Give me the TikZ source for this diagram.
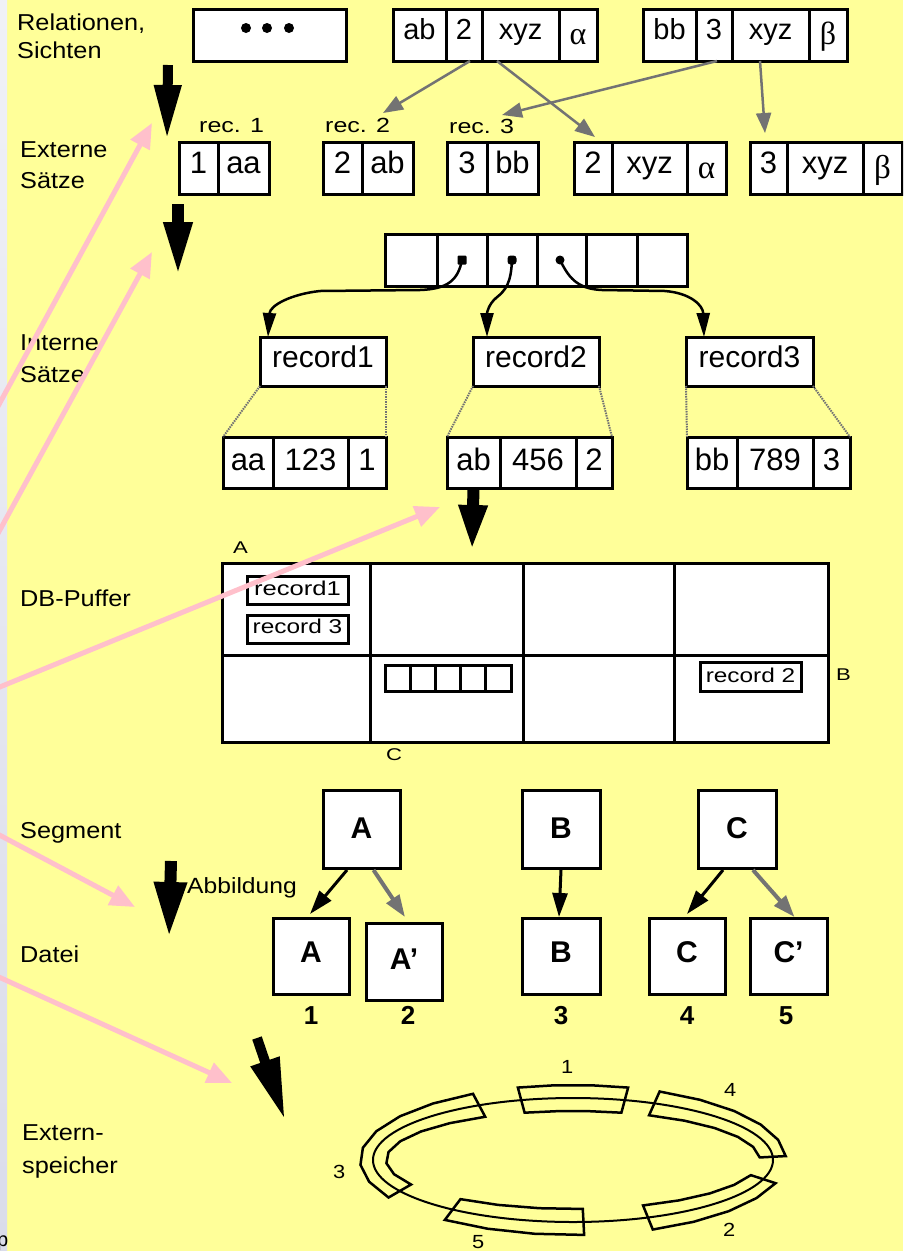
\documentclass[tikz,border=0pt]{standalone}
\usepackage{graphicx}
\usepackage{fontspec}
\setmainfont{Liberation Sans}
\newfontfamily\grkfont{Liberation Serif}
\usetikzlibrary{arrows.meta,calc}
\definecolor{bgyellow}{RGB}{255,255,153}
\definecolor{pinkarrow}{RGB}{255,192,203}
\definecolor{stripA}{RGB}{240,241,247}
\definecolor{stripB}{RGB}{218,220,234}
\definecolor{hatchgray}{RGB}{115,115,115}
\newcommand{\myfs}[1]{\fontsize{#1}{#1}\selectfont}
\newcommand{\mysx}[2]{\scalebox{#1}[1]{#2}}
\newcommand{\mycell}[7][]{\node[cell,minimum width={#4-#3},minimum height={#6-#5},#1] (#2) at ({(#3+#4)/2},{(#5+#6)/2}) {#7};}
\tikzset{
  cell/.style={draw,line width=3pt,fill=white,inner sep=0pt,outer sep=0pt,font=\myfs{29}},
  th/.style={text height=#1,text depth=0pt},
  lab/.style={anchor=base west,inner sep=0pt,font=\myfs{23}},
  small/.style={anchor=base west,inner sep=0pt,font=\myfs{18}},
  ptr/.style={line width=2.5pt,-{Triangle[length=24pt,width=13pt]}},
  grayarr/.style={draw=hatchgray,line width=2.5pt,-{Triangle[length=20pt,width=15pt]}},
  link/.style={draw=hatchgray,line width=2pt,dash pattern=on 1.5pt off 1pt},
  segarr/.style={line width=3pt,-{Triangle[length=24pt,width=15pt]}},
  seggray/.style={draw=hatchgray,line width=4pt,-{Triangle[length=22pt,width=15pt]}},
  pinkarr/.style={draw=pinkarrow,line width=5pt,-{Triangle[length=25pt,width=21pt]}},
  band/.style={line width=2.5pt},
  dotptr/.style={fill=black,inner sep=0pt,minimum size=9pt}
}
\begin{document}
\begin{tikzpicture}[x=1pt,y=-1pt]
\useasboundingbox (0,0) rectangle (903,1251);
\clip (0,0) rectangle (903,1251);
\fill[bgyellow] (0,0) rectangle (903,1251);
\shade[top color=stripA,bottom color=stripB] (0,0) rectangle (7,1251);

% ---------- left labels ----------
\node[lab] (l1a) at (17,30) {\mysx{1.1}{Relationen,}};
\node[lab] (l1b) at (17,58) {\mysx{1.1}{Sichten}};
\node[lab] (l2a) at (20,157) {\mysx{1.1}{Externe}};
\node[lab] (l2b) at (20,188) {\mysx{1.1}{Sätze}};
\node[lab] (l3a) at (20,350) {\mysx{1.1}{Interne}};
\node[lab] (l3b) at (20,382) {\mysx{1.1}{Sätze}};
\node[lab] (l4) at (20,606) {\mysx{1.1}{DB-Puffer}};
\node[lab] (l5) at (20,838) {\mysx{1.1}{Segment}};
\node[lab] (l6) at (20,962) {\mysx{1.1}{Datei}};
\node[lab] (l7a) at (22,1140) {\mysx{1.1}{Extern-}};
\node[lab] (l7b) at (22,1173) {\mysx{1.1}{speicher}};
\node[lab,font=\myfs{20}] (lp) at (-3,1246) {p};

% ---------- row 1 ----------
\mycell{r0}{193}{346}{9}{61}{}
\fill (246,28) circle (5pt) (267,28) circle (5pt) (289,28) circle (5pt);
\mycell[th=8pt]{r1a}{393}{446}{9}{61}{ab}
\mycell[th=8pt]{r1b}{446}{482}{9}{61}{2}
\mycell[th=8pt]{r1c}{482}{559}{9}{61}{xyz}
\mycell[th=18pt,font=\grkfont\myfs{32}]{r1d}{559}{597}{9}{61}{α}
\mycell[th=8pt]{r2a}{643}{696}{9}{61}{bb}
\mycell[th=8pt]{r2b}{696}{732}{9}{61}{3}
\mycell[th=8pt]{r2c}{732}{809}{9}{61}{xyz}
\mycell[th=18pt,font=\grkfont\myfs{32}]{r2d}{809}{847}{9}{61}{β}

% ---------- row 2 ----------
\node[small,font=\myfs{20.5}] (lrec1) at (199,132) {\mysx{1.22}{rec. 1}};
\node[small,font=\myfs{20.5}] (lrec2) at (325,132) {\mysx{1.22}{rec. 2}};
\node[small,font=\myfs{20.5}] (lrec3) at (449,133) {\mysx{1.22}{rec. 3}};
\mycell[th=10pt,font=\myfs{31}]{e1a}{179}{218}{142}{194}{1}
\mycell[th=10pt,font=\myfs{31}]{e1b}{218}{269}{142}{194}{aa}
\mycell[th=10pt,font=\myfs{31}]{e2a}{323}{362}{142}{194}{2}
\mycell[th=10pt,font=\myfs{31}]{e2b}{362}{413}{142}{194}{ab}
\mycell[th=10pt,font=\myfs{31}]{e3a}{447}{487}{142}{194}{3}
\mycell[th=10pt,font=\myfs{31}]{e3b}{487}{538}{142}{194}{bb}
\mycell[th=10pt,font=\myfs{31}]{e4a}{574}{612}{142}{194}{2}
\mycell[th=10pt,font=\myfs{31}]{e4b}{612}{687}{142}{194}{xyz}
\mycell[th=20pt,font=\grkfont\myfs{33}]{e4c}{687}{726}{142}{194}{α}
\mycell[th=10pt,font=\myfs{31}]{e5a}{750}{787}{142}{194}{3}
\mycell[th=10pt,font=\myfs{31}]{e5b}{787}{863}{142}{194}{xyz}
\mycell[th=20pt,font=\grkfont\myfs{33}]{e5c}{863}{902}{142}{194}{β}

% gray arrows row 1 -> row 2
\coordinate (t1) at (383,113);
\coordinate (t2) at (595,137);
\coordinate (t3) at (502,115);
\coordinate (t4) at (765,133);
\draw[grayarr] ($(r1b.south)+(6,0)$) -- (t1);
\draw[grayarr] ($(r1c.south west)+(15,0)$) -- (t2);
\draw[grayarr] ($(r2b.south)+(3,0)$) -- (t3);
\draw[grayarr] ($(r2c.south west)+(28,0)$) -- (t4);

% ---------- row 3 ----------
\mycell{pa1}{385}{437}{234}{286}{}
\mycell{pa2}{437}{487}{234}{286}{}
\mycell{pa3}{487}{537}{234}{286}{}
\mycell{pa4}{537}{586}{234}{286}{}
\mycell{pa5}{586}{637}{234}{286}{}
\mycell{pa6}{637}{687}{234}{286}{}
\node[dotptr,rounded corners=1pt] (p1) at (462,260) {};
\node[dotptr,rounded corners=3pt] (p2) at (512,260) {};
\node[dotptr,circle] (p3) at (560,260) {};

\mycell[th=11pt,font=\myfs{30}]{rec1}{260}{386}{337}{386}{record1}
\mycell[th=11pt,font=\myfs{30}]{rec2}{473}{599}{337}{386}{record2}
\mycell[th=11pt,font=\myfs{30}]{rec3}{686}{813}{337}{386}{record3}

\draw[ptr] (p1.center) .. controls (458,280) and (448,289) .. (420,290)
  -- (320,291) .. controls (292,294) and (270,305) .. ($(rec1.north west)+(8,0)$);
\draw[ptr] (p2.center) .. controls (511,283) and (506,290) .. (496,298)
  .. controls (489,304) and (487,312) .. ($(rec2.north west)+(14,0)$);
\draw[ptr] (p3.center) .. controls (568,276) and (576,289) .. (602,290)
  -- (665,291) .. controls (690,293) and (703,305) .. ($(rec3.north west)+(18,0)$);

\mycell[th=15pt,font=\myfs{31}]{d1a}{223}{273}{437}{488}{aa}
\mycell[th=15pt,font=\myfs{31}]{d1b}{273}{348}{437}{488}{123}
\mycell[th=15pt,font=\myfs{31}]{d1c}{348}{386}{437}{488}{1}
\mycell[th=15pt,font=\myfs{31}]{d2a}{447}{500}{437}{488}{ab}
\mycell[th=15pt,font=\myfs{31}]{d2b}{500}{576}{437}{488}{456}
\mycell[th=15pt,font=\myfs{31}]{d2c}{576}{612}{437}{488}{2}
\mycell[th=15pt,font=\myfs{31}]{d3a}{687}{737}{437}{488}{bb}
\mycell[th=15pt,font=\myfs{31}]{d3b}{737}{813}{437}{488}{789}
\mycell[th=15pt,font=\myfs{31}]{d3c}{813}{850}{437}{488}{3}

\draw[link] (rec1.south west) -- (d1a.north west);
\draw[link] (rec1.south east) -- (d1c.north east);
\draw[link] (rec2.south west) -- (d2a.north west);
\draw[link] (rec2.south east) -- (d2c.north east);
\draw[link] (rec3.south west) -- (d3a.north west);
\draw[link] (rec3.south east) -- (d3c.north east);

% ---------- big black arrows ----------
\coordinate (ba1s) at (168,65);  \coordinate (ba1e) at (167,140);
\coordinate (ba2s) at (178,204); \coordinate (ba2e) at (178,277);
\coordinate (ba3e) at (472,551);
\coordinate (ba4s) at (171,861); \coordinate (ba4e) at (169,938);
\coordinate (ba5s) at (257,1038); \coordinate (ba5e) at (285,1120);
\draw[line width=10pt,-{Triangle[length=55pt,width=25pt]}] (ba1s) -- (ba1e);
\draw[line width=12pt,-{Triangle[length=55pt,width=26pt]}] (ba2s) -- (ba2e);
\draw[line width=12pt,-{Triangle[length=46pt,width=26pt]}] (d2a.south) -- (ba3e);
\draw[line width=12pt,-{Triangle[length=56pt,width=30pt]}] (ba4s) -- (ba4e);
\draw[line width=10pt,-{Triangle[length=62pt,width=28pt]}] (ba5s) -- (ba5e);

% ---------- DB-Puffer ----------
\node[small,font=\myfs{17}] (lA) at (233,553) {\mysx{1.3}{A}};
\node[small,font=\myfs{17}] (lB) at (836,680) {\mysx{1.3}{B}};
\node[small,font=\myfs{17}] (lC) at (386,760) {\mysx{1.3}{C}};
\mycell{b11}{222}{370}{563}{655}{}
\mycell{b12}{370}{523}{563}{655}{}
\mycell{b13}{523}{674}{563}{655}{}
\mycell{b14}{674}{828}{563}{655}{}
\mycell{b21}{222}{370}{655}{742}{}
\mycell{b22}{370}{523}{655}{742}{}
\mycell{b23}{523}{674}{655}{742}{}
\mycell{b24}{674}{828}{655}{742}{}
\mycell[th=10pt,font=\myfs{20}]{sr1}{247}{348}{576}{604}{\mysx{1.28}{record1}}
\mycell[th=8pt,font=\myfs{20}]{sr3}{247}{348}{615}{643}{\mysx{1.22}{record 3}}
\mycell[th=11pt,font=\myfs{20}]{sr2}{700}{801}{662}{691}{\mysx{1.22}{record 2}}
\mycell{sa1}{385}{410.2}{665}{691}{}
\mycell{sa2}{410.2}{435.4}{665}{691}{}
\mycell{sa3}{435.4}{460.6}{665}{691}{}
\mycell{sa4}{460.6}{485.8}{665}{691}{}
\mycell{sa5}{485.8}{511}{665}{691}{}

% ---------- Segment / Datei ----------
\node[lab,font=\myfs{22}] (labb) at (187,893) {\mysx{1.12}{Abbildung}};
\mycell[th=18pt,font=\bfseries\myfs{30}]{sA}{323}{400}{790}{868}{A}
\mycell[th=18pt,font=\bfseries\myfs{30}]{sB}{522}{600}{790}{868}{B}
\mycell[th=18pt,font=\bfseries\myfs{30}]{sC}{698}{776}{790}{868}{C}
\mycell[th=12pt,font=\bfseries\myfs{30}]{fA}{273}{349}{918}{994}{A}
\mycell[th=15pt,font=\bfseries\myfs{30}]{fA2}{366}{442}{923}{1000}{A’}
\mycell[th=12pt,font=\bfseries\myfs{30}]{fB}{522}{600}{918}{994}{B}
\mycell[th=12pt,font=\bfseries\myfs{30}]{fC}{649}{725}{918}{994}{C}
\mycell[th=12pt,font=\bfseries\myfs{30}]{fC2}{750}{827}{918}{994}{C’}
\node[anchor=base,inner sep=0pt,font=\bfseries\myfs{26}] (n1) at (311,1024) {1};
\node[anchor=base,inner sep=0pt,font=\bfseries\myfs{26}] (n2) at (408,1024) {2};
\node[anchor=base,inner sep=0pt,font=\bfseries\myfs{26}] (n3) at (561,1024) {3};
\node[anchor=base,inner sep=0pt,font=\bfseries\myfs{26}] (n4) at (687,1024) {4};
\node[anchor=base,inner sep=0pt,font=\bfseries\myfs{26}] (n5) at (786,1024) {5};

\draw[segarr] ($(sA.south west)+(24,2)$) -- ($(fA.north)+(-1,-4)$);
\draw[seggray] ($(sA.south)+(12,2)$) -- ($(fA2.north)+(1,-6)$);
\draw[segarr] ($(sB.south)+(0,2)$) -- ($(fB.north)+(-2,-1)$);
\draw[segarr] ($(sC.south)+(-14,2)$) -- ($(fC.north)+(0,-4)$);
\draw[seggray] ($(sC.south)+(16,2)$) -- ($(fC2.north)+(6,-1)$);

% ---------- Externspeicher ring ----------
\draw[line width=2pt] (573,1160) ellipse [x radius=200, y radius=62];
\draw[band] plot[domain=75:105,samples=4] ({573+213*cos(\x)},{1160-75*sin(\x)})
  -- plot[domain=105:75,samples=4] ({573+187*cos(\x)},{1160-49*sin(\x)}) -- cycle;
\draw[band] plot[domain=3:66,samples=6] ({573+213*cos(\x)},{1160-75*sin(\x)})
  -- plot[domain=66:3,samples=6] ({573+187*cos(\x)},{1160-49*sin(\x)}) -- cycle;
\draw[band] plot[domain=118:210,samples=8] ({573+213*cos(\x)},{1160-75*sin(\x)})
  -- plot[domain=210:118,samples=8] ({573+187*cos(\x)},{1160-49*sin(\x)}) -- cycle;
\draw[band] plot[domain=233:273,samples=4] ({573+213*cos(\x)},{1160-75*sin(\x)})
  -- plot[domain=273:233,samples=4] ({573+187*cos(\x)},{1160-49*sin(\x)}) -- cycle;
\draw[band] plot[domain=292:342,samples=5] ({573+213*cos(\x)},{1160-75*sin(\x)})
  -- plot[domain=342:292,samples=5] ({573+187*cos(\x)},{1160-49*sin(\x)}) -- cycle;
\node[small,font=\myfs{19}] (k1) at (561,1073) {\mysx{1.15}{1}};
\node[small,font=\myfs{19}] (k4) at (724,1096) {\mysx{1.15}{4}};
\node[small,font=\myfs{19}] (k2) at (723,1236) {\mysx{1.15}{2}};
\node[small,font=\myfs{19}] (k5) at (472,1248) {\mysx{1.15}{5}};
\node[small,font=\myfs{19}] (k3) at (333,1178) {\mysx{1.15}{3}};

% ---------- pink arrows ----------
\coordinate (q1s) at (-10,421);  \coordinate (q1e) at (152,123);
\coordinate (q2s) at (-10,548);  \coordinate (q2e) at (152,252);
\coordinate (q3s) at (-10,691);  \coordinate (q3e) at (440,507);
\coordinate (q4s) at (-10,830);  \coordinate (q4e) at (135,907);
\coordinate (q5s) at (-10,973);  \coordinate (q5e) at (232,1083);
\draw[pinkarr] (q1s) -- (q1e);
\draw[pinkarr] (q2s) -- (q2e);
\draw[pinkarr] (q3s) -- (q3e);
\draw[pinkarr] (q4s) -- (q4e);
\draw[pinkarr] (q5s) -- (q5e);
\end{tikzpicture}
\end{document}
